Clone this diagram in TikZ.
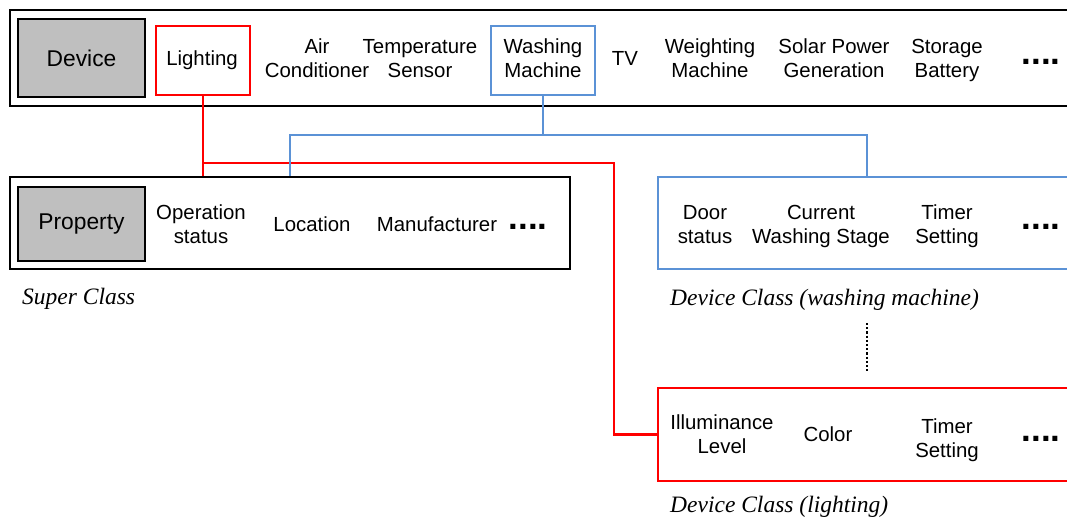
\documentclass[tikz,border=0pt]{standalone}
\usepackage{fontspec}
\setmainfont{Liberation Sans}
\newfontfamily\capfont{Liberation Serif}
\definecolor{lightred}{RGB}{255,0,0}
\definecolor{wmblue}{RGB}{91,146,214}
\definecolor{headgray}{RGB}{191,191,191}
\begin{document}
\begin{tikzpicture}[x=1pt,y=-1pt,
	frame/.style={draw, line width=2.6pt, inner sep=0},
	head/.style={draw, line width=2.2pt, fill=headgray, inner sep=0, font=\fontsize{22.8}{27}\selectfont},
	item/.style={align=center, inner sep=0, text depth=0pt, font=\fontsize{20.4}{24}\selectfont},
	more/.style={anchor=base, inner sep=0, font=\fontsize{35}{40}\selectfont\bfseries},
	caption/.style={anchor=base west, inner sep=0, font=\capfont\itshape\fontsize{23.5}{27}\selectfont},
	redline/.style={draw=lightred, line width=2.2pt},
	blueline/.style={draw=wmblue, line width=2.2pt}]
	\useasboundingbox (0,0) rectangle (1067,519);
	\clip (0,0) rectangle (1067,519);

	% device row
	\node[frame, minimum width=1070, minimum height=96] (devrow) at (545,58) {};
	\node[head, minimum width=127, minimum height=78] (device) at (81.5,58) {Device};
	\node[frame, draw=lightred, line width=2.2pt, minimum width=94, minimum height=69] (lighting) at (203,60.5) {};
	\node[frame, draw=wmblue, line width=2.2pt, minimum width=104, minimum height=69] (washing) at (543,60.5) {};
	\node[item] (t1) at (202,58) {Lighting};
	\node[item] (t2) at (317,58) {Air\\Conditioner};
	\node[item] (t3) at (420,58) {Temperature\\Sensor};
	\node[item] (t4) at (543,58) {Washing\\Machine};
	\node[item] (t5) at (625,58) {TV};
	\node[item] (t6) at (710,58) {Weighting\\Machine};
	\node[item] (t7) at (834,58) {Solar Power\\Generation};
	\node[item] (t8) at (947,58) {Storage\\Battery};
	\node[more] (m1) at (1041,64) {....};

	% super class
	\node[frame, minimum width=560, minimum height=92] (props) at (290,223) {};
	\node[head, minimum width=127, minimum height=74] (property) at (81.5,224) {Property};
	\node[item] (p1) at (201,224) {Operation\\status};
	\node[item] (p2) at (312,224) {Location};
	\node[item] (p3) at (437,224) {Manufacturer};
	\node[more] (m2) at (528,229) {....};
	\node[caption] (c1) at (22,304) {Super Class};

	% device class (washing machine)
	\node[frame, draw=wmblue, line width=2.4pt, minimum width=418, minimum height=92] (wmcls) at (867,223) {};
	\node[item] (w1) at (705,224) {Door\\status};
	\node[item] (w2) at (821,224) {Current\\Washing Stage};
	\node[item] (w3) at (947,224) {Timer\\Setting};
	\node[more] (m3) at (1041,229) {....};
	\node[caption] (c2) at (670,305) {Device Class (washing machine)};

	% device class (lighting)
	\node[frame, draw=lightred, line width=2.4pt, minimum width=418, minimum height=93] (lightcls) at (867,434.5) {};
	\node[item] (l1) at (722,434) {Illuminance\\Level};
	\node[item] (l2) at (828,434) {Color};
	\node[item] (l3) at (947,438) {Timer\\Setting};
	\node[more] (m4) at (1041,441) {....};
	\node[caption] (c3) at (670,512) {Device Class (lighting)};

	% connectors
	\coordinate (redhub) at (203,163);
	\coordinate (redbend) at (614,163);
	\coordinate (bluehub) at (543,135);
	\coordinate (blueleft) at (290,135);
	\coordinate (dotstop) at (867,323);
	\coordinate (dotsend) at (867,371);
	\path[redline] (lighting.south) -- (lighting.south |- props.north);
	\path[redline] (redhub) -- (redbend) |- (lightcls.west);
	\path[blueline] (washing.south) -- (bluehub);
	\path[blueline] (blueleft |- props.north) -- (blueleft) -- (bluehub -| wmcls.north) -- (wmcls.north);
	\draw[line width=2.2pt, dotted] (dotstop) -- (dotsend);
\end{tikzpicture}
\end{document}
